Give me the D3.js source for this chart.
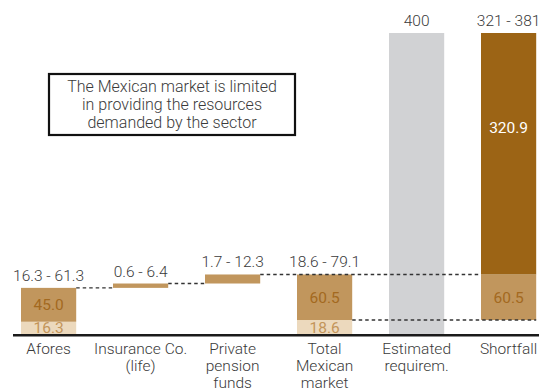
<!DOCTYPE html>
<html>
<head>
<meta charset="utf-8">
<script src="https://cdn.jsdelivr.net/npm/d3@7"></script>
<style>
  html, body { margin: 0; padding: 0; background: #fff; }
  svg { display: block; font-family: Roboto, "Liberation Sans", sans-serif; font-weight: 300; }
</style>
</head>
<body>
<svg id="chart" width="539" height="392"></svg>
<script>
// ---- data ----
const categories = ["Afores", "Insurance Co. (life)", "Private pension funds", "Total Mexican market", "Estimated requirem.", "Shortfall"];
const categoryLines = [["Afores"], ["Insurance Co.", "(life)"], ["Private", "pension", "funds"], ["Total", "Mexican", "market"], ["Estimated", "requirem."], ["Shortfall"]];
const rangeLabels = ["16.3 - 61.3", "0.6 - 6.4", "1.7 - 12.3", "18.6 - 79.1", "400", "321 - 381"];

// light (lower-bound) segments: [start, end]
const lightStart = [0, null, null, 0, null, null];
const lightEnd   = [16.3, null, null, 18.6, null, null];
const lightLabel = ["16.3", null, null, "18.6", null, null];
// tan (range) segments
const tanStart = [16.3, 61.3, 67.1, 18.6, null, 18.6];
const tanEnd   = [61.3, 67.1, 79.1, 79.1, null, 79.1];
const tanLabel = ["45.0", null, null, "60.5", null, "60.5"];
// estimated requirement
const greyStart = [null, null, null, null, 0, null];
const greyEnd   = [null, null, null, null, 400, null];
// shortfall (dark)
const darkStart = [null, null, null, null, null, 79.1];
const darkEnd   = [null, null, null, null, null, 400];
const darkLabel = [null, null, null, null, null, "320.9"];

// connectors: value, from category (right edge), to category (left or right edge)
const connValue = [61.3, 67.1, 79.1, 18.6];
const connFrom  = [0, 1, 2, 3];
const connTo    = [1, 2, 5, 5];
const connToEdge = ["left", "left", "left", "right"];

const noteLines = ["The Mexican market is limited", "in providing the resources", "demanded by the sector"];

// ---- chart ----
const svg = d3.select("#chart");
const x = d3.scaleBand().domain(categories).range([2.6, 554.6]).paddingInner(0.4).paddingOuter(0.2);
const y = d3.scaleLinear().domain([0, 400]).range([334, 33]);

const colors = { light: "#ecd9bd", tan: "#c1965d", grey: "#d1d2d4", dark: "#9c6415" };
const textColor = "#3a3a3a";

function drawSegs(starts, ends, color) {
  const idx = categories.map((c, i) => i).filter(i => starts[i] !== null);
  svg.append("g").selectAll("rect").data(idx).join("rect")
    .attr("x", i => x(categories[i]))
    .attr("width", x.bandwidth())
    .attr("y", i => y(ends[i]))
    .attr("height", i => y(starts[i]) - y(ends[i]))
    .attr("fill", color);
}
drawSegs(lightStart, lightEnd, colors.light);
drawSegs(tanStart, tanEnd, colors.tan);
drawSegs(greyStart, greyEnd, colors.grey);
drawSegs(darkStart, darkEnd, colors.dark);

// connectors
const cg = svg.append("g");
connValue.forEach((v, k) => {
  const x1 = x(categories[connFrom[k]]) + x.bandwidth();
  const toC = categories[connTo[k]];
  const x2 = connToEdge[k] === "left" ? x(toC) : x(toC) + x.bandwidth();
  cg.append("line")
    .attr("x1", x1).attr("x2", x2)
    .attr("y1", y(v)).attr("y2", y(v))
    .attr("stroke", "#333").attr("stroke-width", 1.3)
    .attr("stroke-dasharray", "3.5,3");
});

// inner labels
function segLabels(starts, ends, labels, color, frac) {
  categories.forEach((c, i) => {
    if (!labels[i]) return;
    const v = starts[i] + (ends[i] - starts[i]) * frac;
    svg.append("text")
      .attr("x", x(c) + x.bandwidth() / 2)
      .attr("y", y(v) + 5.6)
      .attr("text-anchor", "middle")
      .attr("font-size", 15.5)
      .attr("font-weight", 400)
      .attr("fill", color)
      .text(labels[i]);
  });
}
segLabels(lightStart, lightEnd, lightLabel, "#c3955a", 0.5);
segLabels(tanStart, tanEnd, tanLabel, "#a3691f", 0.5);
segLabels(darkStart, darkEnd, darkLabel, "#ffffff", 0.61);

// top range labels
categories.forEach((c, i) => {
  const top = Math.max(...[lightEnd[i], tanEnd[i], greyEnd[i], darkEnd[i]].filter(d => d !== null));
  svg.append("text")
    .attr("x", x(c) + x.bandwidth() / 2)
    .attr("y", y(top) - 7)
    .attr("text-anchor", "middle")
    .attr("font-size", 15.5)
    .attr("fill", textColor)
    .text(rangeLabels[i]);
});

// baseline axis
const axisG = svg.append("g").attr("transform", `translate(0,${y(0) + 1.2})`);
const axis = d3.axisBottom(x).tickSize(0).tickFormat("");
axisG.call(axis);
axisG.select(".domain").attr("d", "M13,0H539").attr("stroke", "#1a1a1a").attr("stroke-width", 2.6);

// category labels
categories.forEach((c, i) => {
  const t = svg.append("text")
    .attr("x", x(c) + x.bandwidth() / 2)
    .attr("y", 354)
    .attr("text-anchor", "middle")
    .attr("font-size", 15.5)
    .attr("fill", textColor);
  categoryLines[i].forEach((ln, j) => {
    t.append("tspan").attr("x", x(c) + x.bandwidth() / 2).attr("dy", j === 0 ? 0 : 17).text(ln);
  });
});

// note box
svg.append("rect")
  .attr("x", 49).attr("y", 74).attr("width", 246).attr("height", 61)
  .attr("fill", "#fff").attr("stroke", "#111").attr("stroke-width", 2.2);
noteLines.forEach((ln, j) => {
  svg.append("text")
    .attr("x", 172).attr("y", 92 + j * 18)
    .attr("text-anchor", "middle")
    .attr("font-size", 16)
    .attr("fill", textColor)
    .text(ln);
});
</script>
</body>
</html>
